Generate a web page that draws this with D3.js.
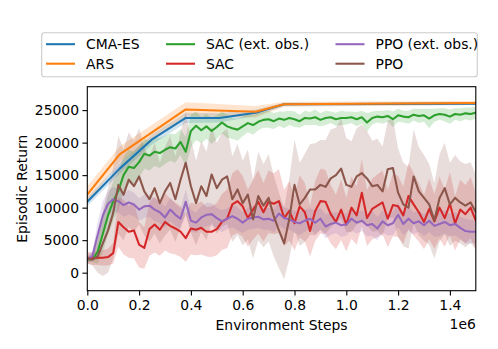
<!DOCTYPE html>
<html>
<head>
<meta charset="utf-8">
<script src="https://cdn.jsdelivr.net/npm/d3@7"></script>
<style>
  body { margin: 0; background: #fff; }
  svg { display: block; font-family: "DejaVu Sans", sans-serif; }
</style>
</head>
<body>
<div id="chart"></div>
<script>
// Episodic return vs environment steps (x in units of 1e6)

// sparse runs (evolution strategies)
const cmaSteps = [0, 0.125, 0.25, 0.38, 0.51, 0.65, 0.76, 1.5];
const cmaMean  = [10900, 16000, 20500, 23800, 23800, 24600, 25900, 26000];
const cmaStd   = [700, 800, 800, 800, 700, 500, 250, 200];

const arsSteps = [0, 0.125, 0.38, 0.65, 0.76, 1.5];
const arsMean  = [12000, 18200, 25100, 24750, 25900, 26100];
const arsStd   = [1300, 1200, 1100, 900, 400, 300];

// dense runs (RL), one value every 0.02e6 steps
const steps = [0, 0.02, 0.04, 0.06, 0.08, 0.10, 0.12, 0.14, 0.16, 0.18,
  0.20, 0.22, 0.24, 0.26, 0.28, 0.30, 0.32, 0.34, 0.36, 0.38,
  0.40, 0.42, 0.44, 0.46, 0.48, 0.50, 0.52, 0.54, 0.56, 0.58,
  0.60, 0.62, 0.64, 0.66, 0.68, 0.70, 0.72, 0.74, 0.76, 0.78,
  0.80, 0.82, 0.84, 0.86, 0.88, 0.90, 0.92, 0.94, 0.96, 0.98,
  1.00, 1.02, 1.04, 1.06, 1.08, 1.10, 1.12, 1.14, 1.16, 1.18,
  1.20, 1.22, 1.24, 1.26, 1.28, 1.30, 1.32, 1.34, 1.36, 1.38,
  1.40, 1.42, 1.44, 1.46, 1.48, 1.50];

const sacExtMean = [2000, 2100, 3200, 6000, 8800, 11000, 12600, 15000, 16300, 16100,
  17000, 18300, 18000, 18600, 18400, 18900, 19300, 19100, 20100, 18600,
  21800, 22600, 21900, 22500, 21800, 22400, 23100, 22500, 22200, 22000,
  22500, 23000, 22700, 23200, 23500, 23600, 23300, 23700, 23500, 23800,
  23600, 23300, 23800, 23700, 23900, 23500, 23800, 23900, 23600, 23800,
  23800, 23900, 23600, 23900, 23100, 23800, 24000, 23900, 24100, 23600,
  24200, 24000, 23900, 24300, 24100, 24200, 23700, 24200, 24400, 24300,
  24000, 24400, 24300, 24500, 24400, 24600];
const sacExtStd = [400, 500, 1800, 2800, 3000, 3000, 2900, 2800, 2600, 2500,
  2400, 2300, 2300, 2200, 2300, 2200, 2100, 2200, 2000, 2300,
  2500, 2200, 2000, 1900, 2000, 1800, 1700, 1800, 1600, 1700,
  1500, 1400, 1500, 1300, 1200, 1300, 1200, 1100, 1300, 1100,
  1200, 1000, 1100, 1000, 1200, 1000, 1100, 900, 1000, 1100,
  1000, 900, 1100, 1000, 1400, 1000, 900, 1000, 900, 1200,
  1000, 900, 1000, 900, 1100, 1000, 1500, 1000, 900, 1000,
  1100, 900, 1000, 900, 1000, 900];

const sacMean = [2300, 2200, 2300, 2300, 2400, 3000, 7800, 7000, 6300, 6500,
  4300, 3800, 6700, 7400, 6600, 7800, 7200, 6800, 6300, 5300,
  6800, 6600, 6900, 6300, 6300, 6700, 7800, 8300, 10500, 11000,
  10200, 8400, 9700, 10900, 9300, 10900, 10600, 11000, 8400, 9500,
  7600, 10200, 9300, 6400, 9500, 11000, 10900, 9000, 7800, 9700,
  7400, 10000, 8800, 12300, 8400, 9800, 10300, 10800, 8300, 10400,
  10200, 8800, 11800, 10500, 9300, 7800, 9800, 7900, 10000, 8400,
  10600, 7600, 9700, 9000, 10000, 8000];
const sacStd = [900, 1000, 1100, 1200, 1300, 1600, 3800, 4200, 4000, 4300,
  3500, 3200, 4100, 4300, 4000, 4400, 4200, 4000, 3900, 3600,
  4000, 3900, 4100, 3800, 3900, 4000, 4300, 4500, 4800, 4900,
  4700, 4400, 4600, 4900, 4500, 4800, 4700, 4900, 4300, 4600,
  4200, 4800, 4500, 3900, 4600, 5000, 4900, 4500, 4200, 4700,
  4100, 4800, 4500, 5200, 4300, 4700, 4800, 4900, 4400, 4800,
  4700, 4400, 5100, 4800, 4500, 4200, 4700, 4200, 4800, 4400,
  4900, 4200, 4600, 4500, 4700, 4300];

const ppoExtMean = [2000, 2600, 5800, 8800, 10600, 11300, 11000, 10400, 10800, 10500,
  9700, 10200, 10300, 9700, 9300, 8500, 9700, 8900, 8300, 10900,
  8000, 7700, 8500, 8900, 9000, 8400, 7900, 8300, 8700, 8300,
  7700, 8300, 8500, 8600, 8200, 8300, 8000, 9100, 8400, 8200,
  7800, 7600, 8000, 8300, 7700, 8300, 7100, 7500, 7700, 7300,
  7400, 8300, 7700, 8000, 7300, 7500, 6800, 7900, 7300, 7600,
  8900, 7500, 8300, 7600, 7900, 7300, 8000, 7200, 7500, 7800,
  7300, 7500, 6900, 6400, 6300, 6300];
const ppoExtStd = [500, 700, 2000, 2200, 2000, 1900, 1800, 1800, 1900, 1800,
  1700, 1800, 1700, 1800, 1700, 1600, 1800, 1700, 1600, 1900,
  1700, 1600, 1700, 1800, 1700, 1600, 1700, 1600, 1700, 1800,
  1600, 1700, 1800, 1700, 1600, 1700, 1800, 1900, 1700, 1600,
  1700, 1800, 1700, 1600, 1800, 1700, 1900, 1700, 1600, 1800,
  1700, 1800, 1700, 1600, 1700, 1900, 1800, 1700, 1600, 1800,
  1900, 1700, 1800, 1700, 1600, 1700, 1800, 1700, 1900, 1800,
  1700, 1800, 1700, 1900, 1800, 1700];

const ppoMean = [2200, 2000, 2500, 4500, 6500, 9200, 13500, 12000, 14300, 13300,
  14800, 12500, 11300, 13000, 10700, 12500, 13800, 11300, 14300, 16900,
  13300, 10700, 13300, 11800, 15100, 13000, 14300, 14800, 11300, 12800,
  10700, 12000, 8200, 11800, 10300, 11500, 8700, 6500, 4500, 8300,
  13500, 10500, 11500, 12800, 12800, 13500, 13200, 14500, 15000, 16000,
  13500, 13200, 14800, 15300, 14500, 13300, 13500, 12500, 15900, 16100,
  12300, 10500, 10000, 14800, 12500, 11500, 10500, 8000, 11500, 13000,
  10500, 11500, 10800, 10300, 10800, 9300];
const ppoStd = [800, 900, 2500, 5000, 6500, 7000, 7500, 7000, 7300, 7000,
  7400, 6800, 6500, 7000, 6200, 6800, 7200, 6600, 7300, 7800,
  7200, 6500, 7000, 6800, 7400, 7000, 7200, 7300, 6600, 7000,
  6500, 6900, 6000, 6800, 6400, 6700, 6200, 5800, 5500, 6100,
  7000, 6400, 6800, 7000, 7100, 6900, 7200, 7500, 7300, 7700,
  7200, 7000, 7400, 7500, 7300, 7000, 7100, 6900, 7500, 7600,
  6800, 6400, 6300, 7200, 6800, 6600, 6200, 5800, 6700, 7000,
  6400, 6600, 6300, 6400, 6200, 5800];

const xTicks = [0, 0.2, 0.4, 0.6, 0.8, 1.0, 1.2, 1.4];
const yTicks = [0, 5000, 10000, 15000, 20000, 25000];

// plot order = legend order (column-major, 3 columns x 2 rows)
const series = [
  {name: 'CMA-ES', color: '#1f77b4', x: cmaSteps, mean: cmaMean, std: cmaStd},
  {name: 'ARS', color: '#ff7f0e', x: arsSteps, mean: arsMean, std: arsStd},
  {name: 'SAC (ext. obs.)', color: '#2ca02c', x: steps, mean: sacExtMean, std: sacExtStd},
  {name: 'SAC', color: '#d62728', x: steps, mean: sacMean, std: sacStd},
  {name: 'PPO (ext. obs.)', color: '#9467bd', x: steps, mean: ppoExtMean, std: ppoExtStd},
  {name: 'PPO', color: '#8c564b', x: steps, mean: ppoMean, std: ppoStd}
];

const W = 498, H = 349;
const box = {left: 87.3, right: 475.8, top: 86.7, bottom: 290.7};
const fontSize = 13.9;
const lw = 2.08;

const x = d3.scaleLinear().domain([0, 1.5]).range([box.left, box.right]);
const y = d3.scaleLinear().domain([-2770, 28600]).range([box.bottom, box.top]);

const svg = d3.select('#chart').append('svg')
  .attr('width', W).attr('height', H);

svg.append('defs').append('clipPath').attr('id', 'plotClip')
  .append('rect')
  .attr('x', box.left).attr('y', box.top)
  .attr('width', box.right - box.left).attr('height', box.bottom - box.top);

const plot = svg.append('g').attr('clip-path', 'url(#plotClip)');

const rows = s => s.x.map((v, i) => ({x: v, m: s.mean[i], sd: s.std[i]}));

const area = d3.area()
  .x(d => x(d.x))
  .y0(d => y(d.m - d.sd))
  .y1(d => y(d.m + d.sd));

const line = d3.line()
  .x(d => x(d.x))
  .y(d => y(d.m));

// bands sit under every line, like matplotlib's default zorder
plot.selectAll('path.band')
  .data(series)
  .join('path')
  .attr('class', 'band')
  .attr('d', s => area(rows(s)))
  .attr('fill', s => s.color)
  .attr('fill-opacity', 0.2)
  .attr('stroke', 'none');

plot.selectAll('path.mean')
  .data(series)
  .join('path')
  .attr('class', 'mean')
  .attr('d', s => line(rows(s)))
  .attr('fill', 'none')
  .attr('stroke', s => s.color)
  .attr('stroke-width', lw)
  .attr('stroke-linejoin', 'round')
  .attr('stroke-linecap', 'square');

// axes
const xAxis = d3.axisBottom(x)
  .tickValues(xTicks)
  .tickFormat(d3.format('.1f'))
  .tickSize(4.9)
  .tickPadding(4.2)
  .tickSizeOuter(0);

const yAxis = d3.axisLeft(y)
  .tickValues(yTicks)
  .tickFormat(d3.format('d'))
  .tickSize(4.9)
  .tickPadding(3.4)
  .tickSizeOuter(0);

const gx = svg.append('g')
  .attr('transform', `translate(0,${box.bottom})`)
  .call(xAxis);
const gy = svg.append('g')
  .attr('transform', `translate(${box.left},0)`)
  .call(yAxis);

[gx, gy].forEach(g => {
  g.select('.domain').remove();
  g.selectAll('line').attr('stroke', '#000').attr('stroke-width', 1.1);
  g.selectAll('text')
    .attr('fill', '#000')
    .style('font-size', fontSize + 'px')
    .style('font-family', '"DejaVu Sans", sans-serif');
});

svg.append('rect')
  .attr('x', box.left).attr('y', box.top)
  .attr('width', box.right - box.left).attr('height', box.bottom - box.top)
  .attr('fill', 'none')
  .attr('stroke', '#000')
  .attr('stroke-width', 1.1);

svg.append('text')
  .attr('x', (box.left + box.right) / 2)
  .attr('y', 329.5)
  .attr('text-anchor', 'middle')
  .style('font-size', fontSize + 'px')
  .text('Environment Steps');

svg.append('text')
  .attr('x', box.right)
  .attr('y', 328.5)
  .attr('text-anchor', 'end')
  .style('font-size', fontSize + 'px')
  .text('1e6');

svg.append('text')
  .attr('transform', `translate(26.5,${(box.top + box.bottom) / 2}) rotate(-90)`)
  .attr('text-anchor', 'middle')
  .style('font-size', fontSize + 'px')
  .text('Episodic Return');

// legend above the axes
const legend = svg.append('g');
legend.append('rect')
  .attr('x', 41.7).attr('y', 32.7)
  .attr('width', 435.6).attr('height', 44)
  .attr('rx', 2.8)
  .attr('fill', '#fff')
  .attr('fill-opacity', 0.8)
  .attr('stroke', '#cccccc')
  .attr('stroke-width', 1.1);

const colX = [46, 166, 335.5];
const rowY = [44.2, 63.7];

const items = legend.selectAll('g.item')
  .data(series)
  .join('g')
  .attr('class', 'item')
  .attr('transform', (d, i) => `translate(${colX[Math.floor(i / 2)]},${rowY[i % 2]})`);

items.append('line')
  .attr('x1', 0).attr('x2', 29)
  .attr('stroke', d => d.color)
  .attr('stroke-width', lw);

items.append('text')
  .attr('x', 40)
  .attr('dy', '0.35em')
  .style('font-size', fontSize + 'px')
  .text(d => d.name);
</script>
</body>
</html>
